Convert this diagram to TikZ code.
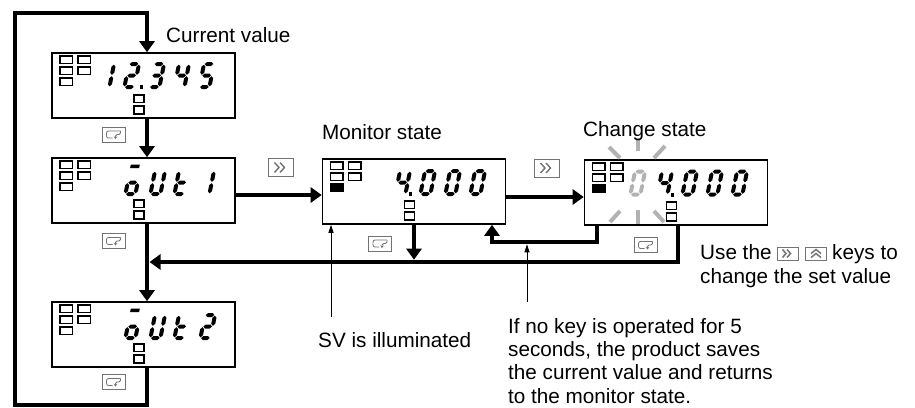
\documentclass[tikz,border=0pt]{standalone}
\usepackage{fontspec}
\setmainfont{Liberation Sans}
\usetikzlibrary{arrows.meta}

\newcommand\SegW{14}
\newcommand\SegH{27}
\newcommand\SegT{2.0}
\newcommand\SegG{0.7}
\newcommand\hseg[1]{\fill ({\SegT+\SegG},{#1}) -- ({2*\SegT+\SegG},{#1+\SegT}) -- ({\SegW-2*\SegT-\SegG},{#1+\SegT}) -- ({\SegW-\SegT-\SegG},{#1}) -- ({\SegW-2*\SegT-\SegG},{#1-\SegT}) -- ({2*\SegT+\SegG},{#1-\SegT}) -- cycle;}
\newcommand\vseg[3]{\fill ({#1},{#2+\SegG}) -- ({#1+\SegT},{#2+\SegG+\SegT}) -- ({#1+\SegT},{#3-\SegG-\SegT}) -- ({#1},{#3-\SegG}) -- ({#1-\SegT},{#3-\SegG-\SegT}) -- ({#1-\SegT},{#2+\SegG+\SegT}) -- cycle;}
\tikzset{
  seg/a/.code={\hseg{\SegH-\SegT}},
  seg/b/.code={\vseg{\SegW-\SegT}{\SegH/2}{\SegH-\SegT}},
  seg/c/.code={\vseg{\SegW-\SegT}{\SegT}{\SegH/2}},
  seg/d/.code={\hseg{\SegT}},
  seg/e/.code={\vseg{\SegT}{\SegT}{\SegH/2}},
  seg/f/.code={\vseg{\SegT}{\SegH/2}{\SegH-\SegT}},
  seg/g/.code={\hseg{\SegH/2}},
  seg/x/.code={\fill (1.5,{\SegH+0.8}) rectangle (10.5,{\SegH+4.4});},
}
\newcommand\sdigit[4][black]{%
  \begin{scope}[shift={(#2,#3)},yscale=-1,xslant=-0.2,fill=#1]
    \foreach \s in {#4}{\edef\segtmp{\noexpand\tikzset{seg/\s}}\segtmp}
  \end{scope}}
\newcommand\dpoint[2]{\fill (#1,#2) rectangle ({#1+3.8},{#2-3.8});}
\newcommand\indicators[2]{%
  \begin{scope}[shift={(#1.north west)}]
    \draw[ind] (9,4) rectangle (21.5,11.5) (27,4) rectangle (39.5,11.5)
               (9,15) rectangle (21.5,22.5) (27,15) rectangle (39.5,22.5);
    \draw[ind, fill=#2] (9,26) rectangle (21.5,33.5);
    \draw[ind] (83,43) rectangle (93,50.5) (83,54) rectangle (93,62);
  \end{scope}}

\begin{document}
\begin{tikzpicture}[x=1pt,y=-1pt,
  disp/.style={draw, line width=1.6pt, minimum width=183pt, minimum height=65pt, inner sep=0pt},
  conn/.style={line width=4.6pt},
  arr/.style={conn, -{Triangle[width=15pt,length=11pt]}},
  thinarr/.style={line width=0.8pt, -{Triangle[width=5pt,length=8pt]}},
  lbl/.style={inner sep=0pt, anchor=base west, font=\fontsize{20.7}{24}\selectfont},
  ray/.style={line width=4pt, draw=black!30},
  ind/.style={line width=1.5pt},
  iconbox/.style={draw=black!55, line width=0.7pt, fill=white, inner sep=0pt},
  keyicon/.style={iconbox, minimum width=23pt, minimum height=15pt,
    path picture={\begin{scope}[shift={(path picture bounding box.center)}]
      \draw[line width=0.8pt, rounded corners=2pt] (7,-3.5) -- (-7,-3.5) -- (-7,3.5) -- (-1,3.5);
      \draw[line width=0.8pt, rounded corners=1.5pt, -{Stealth[length=2.5pt,width=3.5pt]}] (7,-3.5) -- (7,0) -- (2,0) -- (2,4.5);
    \end{scope}}},
  shifticon/.style={iconbox, minimum width=25pt, minimum height=18pt,
    path picture={\begin{scope}[shift={(path picture bounding box.center)}]
      \draw[line width=1.4pt] (-6,-5) -- (-1.5,0) -- (-6,5) (-0.5,-5) -- (4,0) -- (-0.5,5);
    \end{scope}}},
  shiftsmall/.style={iconbox, minimum width=21pt, minimum height=13pt,
    path picture={\begin{scope}[shift={(path picture bounding box.center)}]
      \draw[line width=1.5pt] (-5,-4) -- (-1.5,0) -- (-5,4) (-0.5,-4) -- (3,0) -- (-0.5,4);
    \end{scope}}},
  upsmall/.style={iconbox, minimum width=21pt, minimum height=13pt,
    path picture={\begin{scope}[shift={(path picture bounding box.center)}]
      \draw[line width=1.5pt] (-5,0) -- (0,-4) -- (5,0) (-5,4) -- (0,0) -- (5,4);
    \end{scope}}},
]
\useasboundingbox (0,0) rectangle (915,407);
\fill[white] (0,0) rectangle (915,407);

% displays
\node[disp] (d1) at (143.5,85.5) {};
\node[disp] (d2) at (143.5,190.5) {};
\node[disp] (d3) at (143.5,334.5) {};
\node[disp] (mon) at (414,191.5) {};
\node[disp] (chg) at (676,192.5) {};

\indicators{d1}{white}
\indicators{d2}{white}
\indicators{d3}{white}
\indicators{mon}{black}
\indicators{chg}{black}

% display 1: 12.345
\sdigit{97}{89}{b,c}
\sdigit{122}{89}{a,b,g,e,d}
\dpoint{139.5}{89}
\sdigit{147}{89}{a,b,g,c,d}
\sdigit{172}{89}{f,g,b,c}
\sdigit{197}{89}{a,f,g,c,d}
% display 2: oUt 1
\sdigit{123}{196}{x,c,d,e,g}
\sdigit{148}{196}{b,c,d,e,f}
\sdigit{172}{196}{f,g,e,d}
\sdigit{197}{196}{b,c}
% display 3: oUt2
\sdigit{123}{340}{x,c,d,e,g}
\sdigit{148}{340}{b,c,d,e,f}
\sdigit{172}{340}{f,g,e,d}
\sdigit{198}{340}{a,b,g,e,d}
% monitor: 4.000
\sdigit{393}{196}{f,g,b,c}
\dpoint{408.5}{196}
\sdigit{418}{196}{a,b,c,d,e,f}
\sdigit{443}{196}{a,b,c,d,e,f}
\sdigit{468}{196}{a,b,c,d,e,f}
% change: (0)4.000
\sdigit[black!30]{628}{196.5}{a,b,c,d,e,f}
\sdigit{655}{196.5}{f,g,b,c}
\dpoint{670.5}{196.5}
\sdigit{680}{196.5}{a,b,c,d,e,f}
\sdigit{705}{196.5}{a,b,c,d,e,f}
\sdigit{730}{196.5}{a,b,c,d,e,f}
% blinking rays
\draw[ray] (638,138) -- (638,151);
\draw[ray] (609,147) -- (620,158);
\draw[ray] (654,158) -- (665,146);
\draw[ray] (610,222) -- (620,211);
\draw[ray] (638,210) -- (638,224);
\draw[ray] (654,211) -- (664,222);

% key icons
\node[keyicon] (k1) at (113.5,134.5) {};
\node[keyicon] (k2) at (113.5,241) {};
\node[keyicon] (k3) at (113.5,382) {};
\node[keyicon] (km) at (380,243.5) {};
\node[keyicon] (kc) at (645.5,245) {};
\node[shifticon] (s1) at (280.5,167.5) {};
\node[shifticon] (s2) at (546.5,168) {};

% connectors
\coordinate (cx) at (147,0);
\coordinate (ltop) at (15,13);
\coordinate (lbot) at (15,405);
\coordinate (y195) at (0,195);
\coordinate (y197) at (0,197);
\coordinate (bus) at (149.5,262);
\coordinate (busR) at (678,262);
\coordinate (r1) at (597,242);
\coordinate (r2) at (492,242);
\coordinate (sv1) at (331,317);
\coordinate (nk1) at (527,302);

\draw[arr] (d3.south -| cx) -- (cx |- lbot) -- (lbot) -- (ltop) -- (cx |- ltop) -- (d1.north -| cx);
\draw[arr] (d1.south -| cx) -- (d2.north -| cx);
\draw[arr] (d2.south -| cx) -- (d3.north -| cx);
\draw[arr] (d2.east |- y195) -- (mon.west |- y195);
\draw[arr] (mon.east |- y197) -- (chg.west |- y197);
\draw[arr, shorten >=2.3pt] (mon.south) -- (mon.south |- bus);
\draw[arr] (chg.south -| busR) -- (busR) -- (bus);
\draw[arr] (chg.south -| r1) -- (r1) -- (r2) -- (mon.south -| r2);
\draw[thinarr] (sv1) -- (mon.south -| sv1);
\draw[thinarr, shorten >=2.3pt] (nk1) -- (nk1 |- r1);

% labels
\node[lbl] (cv) at (166,42) {Current value};
\node[lbl] (ms) at (322,139) {Monitor state};
\node[lbl] (cs) at (583,136) {Change state};
\node[lbl] (sv) at (318,347) {SV is illuminated};
\node[lbl] (n1) at (508,333) {If no key is operated for 5};
\node[lbl] (n2) at (508,356.3) {seconds, the product saves};
\node[lbl] (n3) at (508,379.6) {the current value and returns};
\node[lbl] (n4) at (508,403) {to the monitor state.};
\node[lbl] (u1) at (700,259) {Use the};
\node[shiftsmall] (t1) at (787.5,253.5) {};
\node[upsmall] (t2) at (816,253.5) {};
\node[lbl] (u2) at (832,259) {keys to};
\node[lbl] (u3) at (700,283) {change the set value};
\end{tikzpicture}
\end{document}
